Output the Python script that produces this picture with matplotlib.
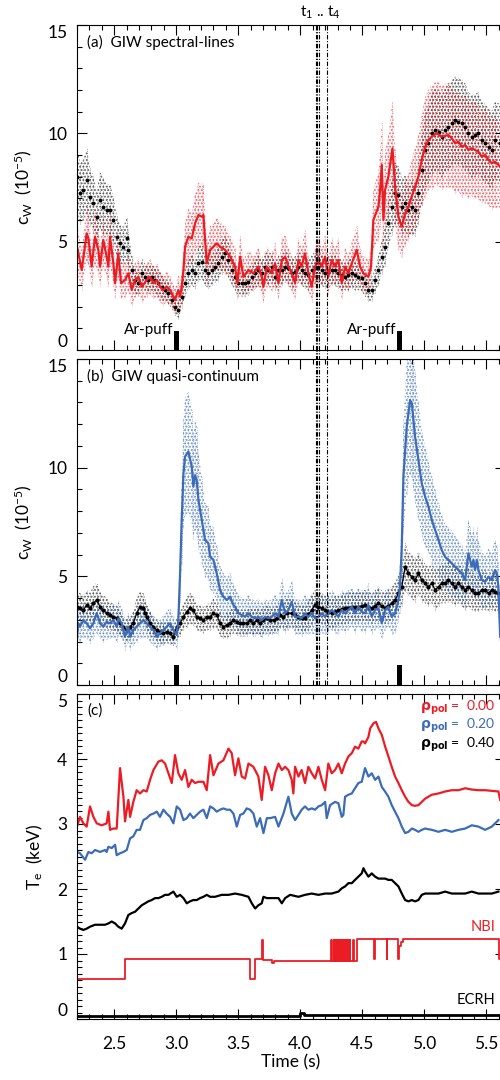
import matplotlib
matplotlib.use('Agg')
import matplotlib.pyplot as plt
from matplotlib.ticker import MultipleLocator
import numpy as np

plt.rcParams['font.family'] = ['Lato', 'DejaVu Sans']
plt.rcParams['mathtext.fontset'] = 'custom'
plt.rcParams['mathtext.rm'] = 'Lato'
plt.rcParams['mathtext.it'] = 'Lato:italic'
plt.rcParams['mathtext.bf'] = 'Lato:bold'
plt.rcParams['hatch.linewidth'] = 0.9

# ---------------- data ----------------
# panel (a): GIW spectral lines
a_red_t = [2.200, 2.238, 2.278, 2.292, 2.318, 2.345, 2.372, 2.386, 2.412, 2.439, 2.453, 2.466, 2.493, 2.507, 2.533, 2.555,
           2.587, 2.614, 2.641, 2.668, 2.695, 2.722, 2.762, 2.789, 2.816, 2.843, 2.869, 2.896, 2.923, 2.950, 2.977, 2.990,
           3.017, 3.031, 3.044, 3.058, 3.071, 3.098, 3.125, 3.152, 3.179, 3.206, 3.219, 3.246, 3.273, 3.300, 3.326, 3.353,
           3.394, 3.434, 3.474, 3.493, 3.515, 3.541, 3.582, 3.622, 3.662, 3.689, 3.703, 3.730, 3.770, 3.797, 3.824, 3.851,
           3.878, 3.904, 3.931, 3.958, 3.985, 4.011, 4.038, 4.065, 4.092, 4.119, 4.146, 4.173, 4.200, 4.226, 4.253, 4.280,
           4.307, 4.334, 4.361, 4.388, 4.415, 4.455, 4.482, 4.509, 4.549, 4.570, 4.589, 4.630, 4.643, 4.657, 4.670, 4.683,
           4.710, 4.743, 4.764, 4.791, 4.818, 4.845, 4.872, 4.898, 4.925, 4.952, 4.979, 5.006, 5.033, 5.060, 5.100, 5.140,
           5.194, 5.221, 5.248, 5.275, 5.302, 5.329, 5.355, 5.382, 5.409, 5.436, 5.463, 5.490, 5.517, 5.544, 5.570, 5.611]
a_red_v = [4.77, 3.69, 5.38, 5.15, 3.85, 5.23, 4.62, 3.85, 5.08, 4.31, 3.85, 5.23, 4.00, 3.08, 4.46, 3.08,
           3.23, 3.54, 2.77, 3.23, 3.38, 2.92, 3.23, 3.38, 3.08, 3.23, 2.92, 2.77, 2.92, 2.77, 2.46, 2.31,
           2.77, 2.46, 2.92, 3.69, 4.77, 5.23, 5.15, 5.85, 6.23, 6.15, 6.23, 4.00, 4.62, 4.77, 4.92, 4.77,
           4.62, 4.31, 3.85, 3.08, 4.31, 3.38, 3.69, 3.54, 3.85, 3.38, 2.92, 3.85, 3.54, 4.00, 3.08, 4.15,
           4.31, 3.85, 3.54, 3.08, 4.15, 3.85, 4.46, 3.54, 2.92, 3.85, 4.15, 3.85, 4.31, 3.38, 4.15, 3.85,
           4.15, 3.08, 3.85, 3.54, 4.00, 4.62, 3.85, 3.54, 3.38, 3.85, 6.00, 6.62, 7.38, 8.54, 6.00, 7.38,
           8.00, 9.31, 7.54, 6.15, 5.69, 6.31, 6.62, 7.08, 7.54, 8.00, 8.77, 9.38, 9.69, 9.85, 10.00, 9.85,
           9.92, 9.77, 9.54, 9.62, 9.38, 9.46, 9.23, 9.31, 9.23, 9.15, 8.92, 9.00, 8.77, 8.62, 8.69, 8.46]
a_red_e = [1.1, 0.9, 1.3, 1.2, 0.9, 1.3, 1.1, 0.9, 1.2, 1.0, 0.9, 1.3, 1.0, 0.7, 1.1, 0.7,
           0.8, 0.8, 0.7, 0.8, 0.8, 0.7, 0.8, 0.8, 0.7, 0.8, 0.7, 0.7, 0.7, 0.7, 0.6, 0.6,
           0.7, 0.6, 0.7, 0.9, 1.1, 1.3, 1.2, 1.4, 1.5, 1.5, 1.5, 1.0, 1.1, 1.1, 1.2, 1.1,
           1.1, 1.0, 0.9, 0.7, 1.0, 0.8, 0.9, 0.8, 0.9, 0.8, 0.7, 0.9, 0.8, 1.0, 0.7, 1.0,
           1.0, 0.9, 0.8, 0.7, 1.0, 0.9, 1.1, 0.8, 0.7, 0.9, 1.0, 0.9, 1.0, 0.8, 1.0, 0.9,
           1.0, 0.7, 0.9, 0.8, 1.0, 1.1, 0.9, 0.8, 0.8, 0.9, 1.4, 1.6, 1.8, 2.0, 1.4, 1.8,
           1.9, 2.2, 1.8, 1.5, 1.4, 1.5, 1.6, 1.7, 1.8, 1.9, 2.1, 2.3, 2.3, 2.4, 2.4, 2.4,
           2.4, 2.3, 2.3, 2.3, 2.3, 2.3, 2.2, 2.2, 2.2, 2.2, 2.1, 2.2, 2.1, 2.1, 2.1, 2.0]

a_blk_t = [2.200, 2.224, 2.251, 2.278, 2.305, 2.332, 2.359, 2.386, 2.412, 2.439, 2.466, 2.493, 2.520, 2.547, 2.574, 2.601,
           2.614, 2.641, 2.668, 2.695, 2.722, 2.749, 2.775, 2.802, 2.829, 2.856, 2.883, 2.910, 2.937, 2.964, 2.990, 3.017,
           3.044, 3.071, 3.098, 3.125, 3.152, 3.179, 3.206, 3.232, 3.259, 3.286, 3.313, 3.340, 3.367, 3.394, 3.421, 3.447,
           3.474, 3.501, 3.528, 3.555, 3.582, 3.609, 3.636, 3.662, 3.689, 3.716, 3.743, 3.770, 3.797, 3.824, 3.851, 3.878,
           3.904, 3.931, 3.958, 3.985, 4.011, 4.038, 4.065, 4.092, 4.119, 4.146, 4.173, 4.200, 4.226, 4.253, 4.280, 4.307,
           4.334, 4.361, 4.388, 4.415, 4.441, 4.468, 4.495, 4.522, 4.549, 4.576, 4.603, 4.630, 4.657, 4.683, 4.710, 4.737,
           4.764, 4.791, 4.818, 4.845, 4.872, 4.898, 4.925, 4.952, 4.979, 5.006, 5.033, 5.060, 5.087, 5.114, 5.140, 5.167,
           5.194, 5.221, 5.248, 5.275, 5.302, 5.329, 5.355, 5.382, 5.409, 5.436, 5.463, 5.490, 5.517, 5.544, 5.570, 5.611]
a_blk_v = [8.00, 7.23, 7.38, 7.85, 7.08, 6.77, 6.15, 6.92, 6.62, 6.46, 6.46, 6.00, 5.23, 4.92, 4.77, 5.15,
           4.62, 3.69, 3.23, 3.08, 3.54, 3.38, 3.23, 3.38, 3.23, 3.08, 2.92, 2.77, 2.62, 2.31, 2.00, 1.85,
           2.46, 3.08, 3.54, 3.69, 3.54, 4.00, 4.08, 3.69, 3.54, 3.69, 3.85, 4.00, 4.31, 4.46, 4.15, 3.69,
           3.38, 3.08, 3.08, 3.08, 3.15, 3.38, 3.54, 3.69, 3.54, 3.85, 3.69, 3.85, 3.38, 3.69, 3.69, 3.85,
           3.77, 3.54, 3.62, 3.85, 3.69, 3.54, 3.46, 3.69, 3.85, 3.85, 3.69, 3.54, 3.62, 3.69, 3.69, 3.54,
           3.46, 3.38, 3.46, 3.54, 3.46, 3.38, 3.31, 3.08, 2.77, 2.77, 3.23, 3.69, 4.31, 4.77, 5.85, 6.62,
           7.23, 7.15, 6.62, 6.77, 6.46, 6.62, 6.46, 7.23, 8.31, 9.23, 9.54, 10.00, 10.15, 10.08, 9.85, 10.15,
           10.31, 10.46, 10.62, 10.54, 10.46, 10.31, 10.00, 9.85, 9.92, 10.00, 9.69, 9.54, 9.38, 9.23, 9.69, 9.54]
a_blk_e = [1.5, 1.4, 1.4, 1.5, 1.3, 1.3, 1.2, 1.3, 1.3, 1.2, 1.2, 1.1, 1.0, 0.9, 0.9, 1.0,
           0.9, 0.7, 0.6, 0.6, 0.7, 0.6, 0.6, 0.6, 0.6, 0.6, 0.6, 0.5, 0.5, 0.4, 0.4, 0.4,
           0.5, 0.6, 0.7, 0.7, 0.7, 0.8, 0.8, 0.7, 0.7, 0.7, 0.7, 0.8, 0.8, 0.8, 0.8, 0.7,
           0.6, 0.6, 0.6, 0.6, 0.6, 0.6, 0.7, 0.7, 0.7, 0.7, 0.7, 0.7, 0.6, 0.7, 0.7, 0.7,
           0.7, 0.7, 0.7, 0.7, 0.7, 0.7, 0.7, 0.7, 0.7, 0.7, 0.7, 0.7, 0.7, 0.7, 0.7, 0.7,
           0.7, 0.6, 0.7, 0.7, 0.7, 0.6, 0.6, 0.6, 0.5, 0.5, 0.6, 0.7, 0.8, 0.9, 1.1, 1.3,
           1.4, 1.4, 1.3, 1.3, 1.2, 1.3, 1.2, 1.4, 1.6, 1.8, 1.8, 1.9, 1.9, 1.9, 1.9, 1.9,
           2.0, 2.0, 2.0, 2.0, 2.0, 2.0, 1.9, 1.9, 1.9, 1.9, 1.8, 1.8, 1.8, 1.8, 1.8, 1.8]

# panel (b): GIW quasi-continuum
b_blu_t = [2.200, 2.210, 2.224, 2.251, 2.278, 2.305, 2.332, 2.359, 2.386, 2.412, 2.439, 2.466, 2.493, 2.520, 2.533, 2.560,
           2.587, 2.614, 2.628, 2.654, 2.681, 2.708, 2.735, 2.762, 2.789, 2.816, 2.843, 2.869, 2.896, 2.923, 2.950, 2.977,
           3.004, 3.017, 3.031, 3.044, 3.058, 3.071, 3.098, 3.125, 3.138, 3.152, 3.165, 3.179, 3.206, 3.232, 3.259, 3.273,
           3.300, 3.326, 3.353, 3.380, 3.407, 3.434, 3.461, 3.474, 3.501, 3.528, 3.555, 3.582, 3.609, 3.636, 3.662, 3.689,
           3.716, 3.743, 3.770, 3.797, 3.824, 3.851, 3.878, 3.904, 3.931, 3.958, 3.985, 4.011, 4.038, 4.065, 4.092, 4.119,
           4.146, 4.173, 4.200, 4.226, 4.253, 4.280, 4.307, 4.334, 4.361, 4.388, 4.415, 4.441, 4.468, 4.495, 4.522, 4.549,
           4.576, 4.603, 4.630, 4.657, 4.683, 4.710, 4.737, 4.764, 4.791, 4.804, 4.818, 4.831, 4.858, 4.885, 4.899, 4.912,
           4.925, 4.952, 4.979, 5.006, 5.033, 5.060, 5.087, 5.114, 5.140, 5.167, 5.194, 5.221, 5.248, 5.275, 5.302, 5.329,
           5.355, 5.369, 5.382, 5.396, 5.409, 5.423, 5.436, 5.463, 5.490, 5.517, 5.544, 5.570, 5.584, 5.597, 5.611]
b_blu_v = [2.22, 2.84, 2.68, 2.99, 2.84, 2.61, 2.84, 3.30, 2.84, 2.68, 2.91, 2.84, 2.99, 2.68, 3.07, 2.84,
           2.22, 2.68, 2.22, 2.53, 2.68, 2.84, 2.99, 2.84, 2.68, 2.53, 2.22, 2.38, 2.53, 2.68, 2.84, 2.53,
           2.30, 2.99, 5.14, 7.59, 9.74, 10.51, 10.74, 10.05, 9.13, 9.66, 9.43, 8.51, 7.59, 6.67, 6.52, 5.90,
           5.75, 5.14, 4.37, 4.06, 3.91, 4.06, 3.68, 3.60, 3.30, 3.22, 3.14, 3.30, 3.14, 3.07, 3.14, 2.99,
           3.14, 3.07, 3.14, 3.30, 3.14, 3.91, 3.30, 3.45, 3.83, 3.14, 3.14, 3.07, 3.30, 3.14, 3.30, 3.07,
           3.14, 3.30, 3.14, 3.30, 3.45, 3.30, 3.14, 3.45, 3.30, 3.45, 3.60, 3.30, 3.60, 3.37, 3.30, 3.68,
           3.14, 3.45, 3.53, 2.84, 3.45, 3.60, 3.14, 3.30, 3.91, 4.52, 6.37, 9.59, 11.89, 13.11, 12.96, 12.19,
           11.43, 10.35, 9.28, 8.67, 8.21, 7.59, 7.13, 6.67, 6.21, 5.90, 5.75, 5.60, 5.44, 5.29, 5.14, 4.83,
           6.06, 5.75, 5.44, 5.75, 5.29, 5.75, 5.29, 4.83, 4.75, 4.98, 4.83, 5.29, 5.14, 4.52, 2.22]
b_blu_e = [0.6, 0.7, 0.7, 0.8, 0.7, 0.7, 0.7, 0.9, 0.7, 0.7, 0.8, 0.7, 0.8, 0.7, 0.8, 0.7,
           0.6, 0.7, 0.6, 0.7, 0.7, 0.7, 0.8, 0.7, 0.7, 0.7, 0.6, 0.6, 0.7, 0.7, 0.7, 0.7,
           0.6, 0.8, 1.3, 2.0, 2.5, 2.7, 2.8, 2.6, 2.4, 2.5, 2.5, 2.2, 2.0, 1.7, 1.7, 1.5,
           1.5, 1.3, 1.1, 1.1, 1.0, 1.1, 1.0, 0.9, 0.9, 0.8, 0.8, 0.9, 0.8, 0.8, 0.8, 0.8,
           0.8, 0.8, 0.8, 0.9, 0.8, 1.0, 0.9, 0.9, 1.0, 0.8, 0.8, 0.8, 0.9, 0.8, 0.9, 0.8,
           0.8, 0.9, 0.8, 0.9, 0.9, 0.9, 0.8, 0.9, 0.9, 0.9, 0.9, 0.9, 0.9, 0.9, 0.9, 1.0,
           0.8, 0.9, 0.9, 0.7, 0.9, 0.9, 0.8, 0.9, 1.0, 1.2, 1.7, 2.5, 3.1, 3.4, 3.4, 3.2,
           3.0, 2.7, 2.4, 2.3, 2.1, 2.0, 1.9, 1.7, 1.6, 1.5, 1.5, 1.5, 1.4, 1.4, 1.3, 1.3,
           1.6, 1.5, 1.4, 1.5, 1.4, 1.5, 1.4, 1.3, 1.2, 1.3, 1.3, 1.4, 1.3, 1.2, 0.6]

b_blk_t = [2.200, 2.224, 2.251, 2.278, 2.305, 2.332, 2.359, 2.386, 2.412, 2.439, 2.466, 2.493, 2.520, 2.547, 2.574, 2.601,
           2.628, 2.654, 2.681, 2.708, 2.735, 2.749, 2.762, 2.789, 2.816, 2.843, 2.869, 2.896, 2.923, 2.950, 2.977, 3.004,
           3.031, 3.058, 3.085, 3.111, 3.138, 3.165, 3.192, 3.219, 3.246, 3.273, 3.300, 3.326, 3.353, 3.380, 3.407, 3.434,
           3.461, 3.488, 3.515, 3.541, 3.568, 3.595, 3.622, 3.649, 3.676, 3.703, 3.730, 3.757, 3.784, 3.810, 3.837, 3.864,
           3.891, 3.931, 3.958, 3.985, 4.011, 4.038, 4.065, 4.092, 4.119, 4.146, 4.173, 4.200, 4.226, 4.253, 4.280, 4.307,
           4.334, 4.361, 4.388, 4.415, 4.441, 4.468, 4.495, 4.522, 4.549, 4.576, 4.603, 4.630, 4.657, 4.683, 4.710, 4.737,
           4.764, 4.791, 4.818, 4.845, 4.872, 4.899, 4.925, 4.952, 4.979, 5.006, 5.033, 5.060, 5.087, 5.114, 5.140, 5.167,
           5.194, 5.221, 5.248, 5.275, 5.302, 5.329, 5.355, 5.382, 5.409, 5.436, 5.463, 5.490, 5.517, 5.544, 5.570, 5.597]
b_blk_v = [3.60, 3.53, 3.45, 3.68, 3.53, 3.76, 3.91, 3.60, 3.45, 3.30, 3.22, 3.14, 3.07, 2.84, 2.68, 2.53,
           2.68, 2.84, 3.30, 3.60, 3.53, 3.30, 3.14, 2.84, 2.68, 2.53, 2.45, 2.38, 2.45, 2.38, 2.22, 2.68,
           2.84, 3.14, 3.37, 3.53, 3.45, 3.14, 3.07, 2.99, 3.14, 3.14, 3.30, 3.22, 2.84, 2.68, 2.76, 2.84,
           2.99, 2.91, 2.84, 2.84, 2.84, 2.99, 2.84, 2.99, 2.84, 2.99, 3.07, 2.99, 2.99, 3.07, 3.22, 3.14,
           3.30, 3.30, 3.22, 3.14, 3.10, 3.07, 3.25, 3.45, 3.68, 3.60, 3.53, 3.45, 3.38, 3.30, 3.38, 3.45,
           3.50, 3.53, 3.56, 3.60, 3.60, 3.60, 3.64, 3.68, 3.60, 3.53, 3.65, 3.76, 3.64, 3.53, 3.65, 3.76,
           3.91, 4.22, 4.52, 5.44, 5.14, 4.98, 4.83, 5.14, 4.83, 4.68, 4.52, 4.68, 4.37, 4.52, 4.68, 4.68,
           4.83, 4.68, 4.52, 4.68, 4.52, 4.37, 4.52, 4.37, 4.22, 4.22, 4.37, 4.37, 4.22, 4.37, 4.29, 4.22]
b_blk_e = [0.7, 0.7, 0.7, 0.7, 0.7, 0.8, 0.8, 0.7, 0.7, 0.7, 0.6, 0.6, 0.6, 0.6, 0.5, 0.5,
           0.5, 0.6, 0.7, 0.7, 0.7, 0.7, 0.6, 0.6, 0.5, 0.5, 0.5, 0.5, 0.5, 0.5, 0.4, 0.5,
           0.6, 0.6, 0.7, 0.7, 0.7, 0.6, 0.6, 0.6, 0.6, 0.6, 0.7, 0.6, 0.6, 0.5, 0.6, 0.6,
           0.6, 0.6, 0.6, 0.6, 0.6, 0.6, 0.6, 0.6, 0.6, 0.6, 0.6, 0.6, 0.6, 0.6, 0.6, 0.6,
           0.7, 0.7, 0.6, 0.6, 0.6, 0.6, 0.7, 0.7, 0.7, 0.7, 0.7, 0.7, 0.7, 0.7, 0.7, 0.7,
           0.7, 0.7, 0.7, 0.7, 0.7, 0.7, 0.7, 0.7, 0.7, 0.7, 0.7, 0.8, 0.7, 0.7, 0.7, 0.8,
           0.8, 0.8, 0.9, 1.1, 1.0, 1.0, 1.0, 1.0, 1.0, 0.9, 0.9, 0.9, 0.9, 0.9, 0.9, 0.9,
           1.0, 0.9, 0.9, 0.9, 0.9, 0.9, 0.9, 0.9, 0.8, 0.8, 0.9, 0.9, 0.8, 0.9, 0.9, 0.8]

# panel (c): electron temperature profiles
c0_t = [2.200, 2.224, 2.251, 2.278, 2.305, 2.332, 2.359, 2.399, 2.439, 2.453, 2.466, 2.493, 2.520, 2.547, 2.574, 2.587,
        2.614, 2.628, 2.654, 2.681, 2.708, 2.735, 2.762, 2.789, 2.816, 2.856, 2.883, 2.910, 2.937, 2.964, 2.990, 3.017,
        3.044, 3.071, 3.098, 3.125, 3.152, 3.179, 3.219, 3.246, 3.273, 3.300, 3.340, 3.380, 3.421, 3.447, 3.474, 3.501,
        3.528, 3.555, 3.582, 3.622, 3.662, 3.689, 3.716, 3.743, 3.770, 3.797, 3.824, 3.851, 3.878, 3.904, 3.931, 3.944,
        3.958, 3.985, 4.011, 4.038, 4.065, 4.092, 4.119, 4.146, 4.173, 4.200, 4.226, 4.253, 4.280, 4.307, 4.334, 4.361,
        4.388, 4.415, 4.441, 4.468, 4.495, 4.509, 4.522, 4.549, 4.563, 4.590, 4.611, 4.630, 4.657, 4.684, 4.710, 4.737,
        4.764, 4.791, 4.818, 4.845, 4.872, 4.899, 4.925, 4.952, 4.979, 5.006, 5.060, 5.114, 5.167, 5.221, 5.275, 5.329,
        5.382, 5.436, 5.490, 5.544, 5.597, 5.611]
c0_v = [2.96, 3.11, 3.01, 2.96, 3.27, 3.11, 3.01, 2.98, 3.01, 3.19, 2.91, 2.93, 2.93, 3.86, 3.42, 3.04,
        3.37, 3.11, 3.34, 3.52, 3.47, 3.52, 3.50, 3.68, 3.83, 3.96, 3.98, 3.93, 3.78, 3.63, 4.06, 3.78,
        3.68, 3.83, 3.57, 3.68, 3.63, 3.65, 3.65, 3.52, 4.06, 3.75, 3.93, 3.98, 4.16, 4.09, 3.75, 4.01,
        3.73, 3.70, 3.93, 3.88, 3.73, 3.37, 3.88, 3.75, 3.52, 3.78, 3.93, 3.83, 3.88, 3.83, 3.68, 3.47,
        3.88, 3.73, 3.83, 3.63, 3.88, 3.78, 3.70, 3.88, 3.68, 3.52, 3.93, 3.78, 3.83, 3.93, 3.78, 3.93,
        4.04, 4.09, 4.19, 4.16, 4.27, 4.27, 4.24, 4.34, 4.47, 4.55, 4.57, 4.47, 4.37, 4.19, 4.04, 3.88,
        3.73, 3.63, 3.52, 3.42, 3.34, 3.29, 3.28, 3.29, 3.34, 3.39, 3.45, 3.47, 3.50, 3.52, 3.52, 3.55,
        3.53, 3.52, 3.52, 3.51, 3.50, 3.37]

c2_t = [2.200, 2.224, 2.265, 2.292, 2.318, 2.345, 2.386, 2.426, 2.439, 2.453, 2.480, 2.507, 2.520, 2.547, 2.574, 2.601,
        2.628, 2.654, 2.681, 2.708, 2.735, 2.762, 2.789, 2.816, 2.843, 2.869, 2.896, 2.923, 2.950, 2.977, 3.004, 3.031,
        3.058, 3.085, 3.111, 3.138, 3.165, 3.192, 3.219, 3.246, 3.273, 3.300, 3.326, 3.353, 3.380, 3.407, 3.434, 3.461,
        3.488, 3.515, 3.541, 3.568, 3.595, 3.622, 3.649, 3.676, 3.703, 3.730, 3.757, 3.797, 3.824, 3.864, 3.904, 3.931,
        3.958, 3.985, 4.011, 4.038, 4.065, 4.092, 4.119, 4.146, 4.173, 4.200, 4.213, 4.240, 4.280, 4.307, 4.334, 4.347,
        4.361, 4.388, 4.415, 4.441, 4.468, 4.495, 4.522, 4.549, 4.576, 4.603, 4.630, 4.657, 4.683, 4.710, 4.737, 4.764,
        4.791, 4.818, 4.845, 4.872, 4.899, 4.925, 4.952, 4.979, 5.006, 5.060, 5.114, 5.167, 5.221, 5.275, 5.329, 5.382,
        5.436, 5.490, 5.544, 5.597]
c2_v = [2.57, 2.55, 2.45, 2.57, 2.55, 2.60, 2.57, 2.60, 2.57, 2.65, 2.63, 2.68, 2.52, 2.55, 2.57, 2.60,
        2.78, 2.81, 2.91, 2.91, 3.06, 3.09, 3.14, 3.16, 3.19, 3.11, 3.22, 3.16, 3.11, 3.01, 3.27, 3.22,
        3.06, 3.09, 3.16, 3.09, 3.14, 3.19, 3.22, 3.09, 3.27, 3.24, 3.19, 3.22, 3.24, 3.22, 3.22, 3.16,
        2.96, 3.14, 3.16, 3.24, 3.22, 3.16, 2.96, 3.09, 2.86, 3.09, 3.09, 3.11, 2.96, 3.16, 3.42, 3.16,
        3.06, 3.14, 3.22, 3.27, 3.22, 3.24, 3.22, 3.27, 3.29, 3.34, 3.09, 3.29, 3.34, 3.32, 3.11, 3.14,
        3.42, 3.45, 3.47, 3.55, 3.63, 3.65, 3.86, 3.73, 3.78, 3.68, 3.73, 3.57, 3.50, 3.42, 3.29, 3.19,
        3.09, 2.96, 2.86, 2.88, 2.93, 2.91, 2.88, 2.91, 2.93, 2.91, 2.88, 2.91, 2.88, 2.91, 2.93, 2.98,
        2.96, 2.91, 2.96, 3.06]

c4_t = [2.200, 2.224, 2.251, 2.278, 2.305, 2.345, 2.386, 2.426, 2.453, 2.480, 2.507, 2.533, 2.560, 2.587, 2.614, 2.641,
        2.668, 2.695, 2.722, 2.749, 2.775, 2.802, 2.829, 2.856, 2.883, 2.910, 2.937, 2.977, 3.004, 3.031, 3.058, 3.085,
        3.111, 3.138, 3.165, 3.192, 3.219, 3.246, 3.273, 3.313, 3.367, 3.421, 3.474, 3.528, 3.582, 3.609, 3.636, 3.662,
        3.689, 3.703, 3.730, 3.770, 3.824, 3.851, 3.878, 3.918, 3.985, 4.038, 4.092, 4.146, 4.200, 4.253, 4.307, 4.334,
        4.361, 4.388, 4.415, 4.441, 4.468, 4.495, 4.509, 4.522, 4.549, 4.576, 4.603, 4.630, 4.657, 4.683, 4.710, 4.737,
        4.764, 4.791, 4.818, 4.845, 4.872, 4.899, 4.925, 4.952, 4.979, 5.006, 5.060, 5.114, 5.167, 5.221, 5.275, 5.329,
        5.382, 5.436, 5.490, 5.544, 5.597]
c4_v = [1.42, 1.39, 1.37, 1.39, 1.42, 1.45, 1.45, 1.45, 1.47, 1.50, 1.47, 1.42, 1.39, 1.47, 1.60, 1.63,
        1.65, 1.70, 1.75, 1.78, 1.81, 1.83, 1.86, 1.86, 1.88, 1.91, 1.91, 1.96, 1.88, 1.91, 1.86, 1.78,
        1.81, 1.83, 1.83, 1.86, 1.88, 1.91, 1.88, 1.88, 1.91, 1.91, 1.93, 1.91, 1.88, 1.78, 1.70, 1.75,
        1.78, 1.88, 1.86, 1.86, 1.86, 1.78, 1.86, 1.91, 1.88, 1.91, 1.93, 1.91, 1.93, 1.93, 1.96, 2.01,
        2.04, 2.09, 2.09, 2.14, 2.19, 2.24, 2.32, 2.27, 2.19, 2.24, 2.19, 2.16, 2.16, 2.16, 2.14, 2.14,
        2.09, 2.04, 1.93, 1.83, 1.81, 1.83, 1.81, 1.83, 1.91, 1.93, 1.93, 1.93, 1.96, 1.93, 1.93, 1.93,
        1.96, 1.93, 1.93, 1.93, 1.96]

nbi_t = [2.200, 2.590, 3.595, 3.636, 3.690, 3.697, 3.770, 3.790,
         4.250, 4.254, 4.270, 4.274, 4.287, 4.291, 4.303, 4.307, 4.319, 4.323, 4.335, 4.339,
         4.351, 4.355, 4.367, 4.371, 4.383, 4.387, 4.400, 4.404, 4.426, 4.430, 4.455,
         4.597, 4.601, 4.697, 4.701, 4.790, 4.795, 4.810, 4.830, 5.603, 5.611]
nbi_v = [0.62, 0.93, 0.62, 0.92, 1.22, 0.91, 0.86, 0.90,
         1.22, 0.90, 1.22, 0.90, 1.22, 0.90, 1.22, 0.90, 1.22, 0.90, 1.22, 0.90,
         1.22, 0.90, 1.22, 0.90, 1.22, 0.90, 1.22, 0.90, 1.22, 0.90, 1.23,
         0.93, 1.23, 0.93, 1.23, 0.93, 1.12, 1.18, 1.23, 0.93, 0.93]

ecrh_t = [2.20, 4.00, 4.03, 5.611]
ecrh_v = [0.04, 0.09, 0.06, 0.06]

puff_t = [3.0, 4.8]
puff_h = 0.9
t_marks = [4.125, 4.138, 4.152, 4.214]

RED = '#ec1c24'
BLUE = '#3c6cb8'
BLACK = '#000000'

# ---------------- figure ----------------
fig = plt.figure(figsize=(5, 10.8), dpi=100)
L, W = 77 / 500, 428 / 500
ax_a = fig.add_axes([L, 1 - 350 / 1080, W, 325 / 1080])
ax_b = fig.add_axes([L, 1 - 685 / 1080, W, 326 / 1080])
ax_c = fig.add_axes([L, 1 - 1019 / 1080, W, 325 / 1080])

XMIN, XMAX = 2.2, 5.65
dash_dot = (0, (4, 1.5, 1, 1.5))


def band(ax, t, v, e, color, alpha):
    t = np.asarray(t); v = np.asarray(v); e = np.asarray(e)
    ax.fill_between(t, v - e, v + e, facecolor='none', edgecolor=color, hatch='.....',
                    linewidth=0, alpha=alpha)
    ax.vlines(t, v - e, v + e, colors=color, linestyles=(0, (1.0, 1.6)), lw=0.6, alpha=alpha * 0.8)


def style(ax, ymax, ymajor, yminor):
    ax.set_xlim(XMIN, XMAX)
    ax.set_ylim(0, ymax)
    ax.xaxis.set_major_locator(MultipleLocator(0.5))
    ax.xaxis.set_minor_locator(MultipleLocator(0.1))
    ax.yaxis.set_major_locator(MultipleLocator(ymajor))
    ax.yaxis.set_minor_locator(MultipleLocator(yminor))
    ax.tick_params(which='both', direction='in', top=True, right=True, width=0.8)
    ax.tick_params(which='major', length=7, labelsize=12.5, pad=7)
    ax.tick_params(which='minor', length=3.5)
    ax.tick_params(axis='x', pad=12)
    for s in ax.spines.values():
        s.set_linewidth(0.8)


# ---- panel (a)
band(ax_a, a_blk_t, a_blk_v, a_blk_e, BLACK, 0.6)
band(ax_a, a_red_t, a_red_v, a_red_e, RED, 0.65)
ax_a.plot(a_blk_t, a_blk_v, 'o', color=BLACK, ms=2.8, mew=0)
ax_a.plot(a_red_t, a_red_v, '-', color=RED, lw=1.6)
style(ax_a, 15, 5, 1)
ax_a.set_xticklabels([])
ax_a.set_ylabel(r'c$_\mathrm{W}$  (10$^{-5}$)', fontsize=12.5)
ax_a.yaxis.set_label_coords(-0.100, 0.5)
ax_a.text(0.024, 0.947, '(a)  GIW spectral-lines', transform=ax_a.transAxes, fontsize=11, va='center', ha='left')
ax_a.bar(puff_t, [puff_h] * len(puff_t), width=0.04, color=BLACK)
for tp in puff_t:
    ax_a.text(tp - 0.024, 0.72, 'Ar-puff', ha='right', va='baseline', fontsize=11)

# ---- panel (b)
band(ax_b, b_blk_t, b_blk_v, b_blk_e, BLACK, 0.6)
band(ax_b, b_blu_t, b_blu_v, b_blu_e, BLUE, 0.7)
ax_b.plot(b_blk_t, b_blk_v, '-', color=BLACK, lw=0.9)
ax_b.plot(b_blk_t, b_blk_v, 'o', color=BLACK, ms=3.0, mew=0)
ax_b.plot(b_blu_t, b_blu_v, '-', color=BLUE, lw=1.6)
style(ax_b, 15, 5, 1)
ax_b.set_xticklabels([])
ax_b.set_ylabel(r'c$_\mathrm{W}$  (10$^{-5}$)', fontsize=12.5)
ax_b.yaxis.set_label_coords(-0.100, 0.5)
ax_b.text(0.024, 0.947, '(b)  GIW quasi-continuum', transform=ax_b.transAxes, fontsize=11, va='center', ha='left')
ax_b.bar(puff_t, [puff_h] * len(puff_t), width=0.04, color=BLACK)

for ax in (ax_a, ax_b):
    for tm in t_marks:
        ax.axvline(tm, color=BLACK, lw=0.8, ls=dash_dot)
for tm in t_marks:
    ax_a.axvline(tm, ymin=-0.03, ymax=0, color=BLACK, lw=0.8, ls=dash_dot, clip_on=False)
fig.text(320 / 500, 1 - 12 / 1080, r't$_1$ .. t$_4$', ha='center', va='center', fontsize=11)

# ---- panel (c)
ax_c.plot(c0_t, c0_v, '-', color=RED, lw=1.6)
ax_c.plot(c2_t, c2_v, '-', color=BLUE, lw=1.6)
ax_c.plot(c4_t, c4_v, '-', color=BLACK, lw=1.6)
ax_c.plot(nbi_t, nbi_v, '-', color=RED, lw=1.3, drawstyle='steps-post')
ax_c.plot(ecrh_t, ecrh_v, '-', color=BLACK, lw=2.0, drawstyle='steps-post')
style(ax_c, 5, 1, 0.1)
ax_c.set_xticks([2.5, 3.0, 3.5, 4.0, 4.5, 5.0, 5.5])
ax_c.set_xticklabels(['2.5', '3.0', '3.5', '4.0', '4.5', '5.0', '5.5'])
ax_c.set_xlabel('Time (s)', fontsize=12.5, labelpad=2)
ax_c.set_ylabel(r'T$_\mathrm{e}$  (keV)', fontsize=12.5)
ax_c.yaxis.set_label_coords(-0.075, 0.5)
ax_c.text(0.024, 0.95, '(c)', transform=ax_c.transAxes, fontsize=11, va='center', ha='left')

leg_vals = ['0.00', '0.20', '0.40']
leg_cols = [RED, BLUE, BLACK]
leg_y = [0.950, 0.893, 0.836]
for val, col, yy in zip(leg_vals, leg_cols, leg_y):
    ax_c.text(0.977, yy, r'$\mathbf{\rho}_\mathbf{pol}$ =  ' + val, transform=ax_c.transAxes, color=col,
              fontsize=10, ha='right', va='baseline', math_fontfamily='dejavusans')
ax_c.text(0.977, 1.31, 'NBI', color=RED, fontsize=10.5, ha='right', va='bottom',
          transform=ax_c.get_yaxis_transform())
ax_c.text(0.977, 0.18, 'ECRH', color=BLACK, fontsize=10.5, ha='right', va='bottom',
          transform=ax_c.get_yaxis_transform())

# end tick labels moved inward like the original
fig.canvas.draw()
for ax in (ax_a, ax_b, ax_c):
    ticks = ax.get_yticks()
    lo, hi = ax.get_ylim()
    for lab, tk in zip(ax.get_yticklabels(), ticks):
        if abs(tk - lo) < 1e-9:
            lab.set_va('bottom')
        elif abs(tk - hi) < 1e-9:
            lab.set_va('top')

fig.savefig('out.png', dpi=100)
